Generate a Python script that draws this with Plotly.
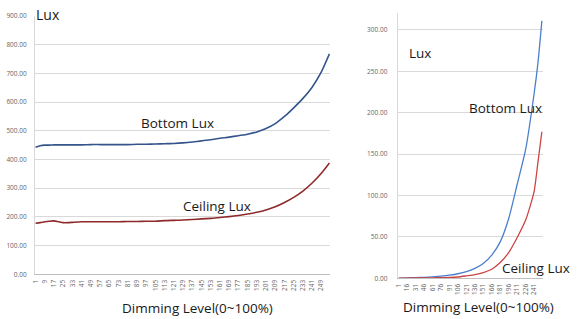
import plotly.graph_objects as go

W, H = 584, 319

# ---------------- data ----------------
left_x = [1, 5, 9, 13, 17, 21, 25, 29, 33, 41, 49, 57, 65, 73, 81, 89, 97, 105, 113,
          121, 129, 137, 145, 153, 161, 169, 177, 185, 193, 201, 209, 217, 225, 233,
          241, 249, 256]
left_bottom = [443, 448, 450, 450, 451, 451, 451, 451, 451, 451, 452, 452, 452, 452, 452,
               453, 453, 454, 455, 456, 458, 461, 465, 469, 474, 478, 483, 488, 496, 508,
               525, 550, 580, 613, 652, 705, 768]
left_ceiling = [178, 180, 183, 185, 186, 183, 180, 180, 181, 183, 183, 183, 183, 183, 184,
                184, 185, 185, 187, 188, 189, 191, 193, 195, 198, 201, 205, 210, 216, 224,
                235, 250, 268, 290, 318, 352, 388]
left_ticks = list(range(1, 250, 8))

right_x = [1, 16, 31, 46, 61, 76, 91, 106, 121, 136, 151, 166, 181, 196, 211, 226, 241, 248, 255]
right_bottom = [0.3, 0.5, 0.8, 1.2, 1.8, 2.6, 3.8, 5.5, 8, 12, 18, 28, 44, 72, 113, 155,
                222, 260, 311]
right_ceiling = [0.2, 0.3, 0.4, 0.5, 0.6, 0.8, 1.0, 1.6, 3, 4.5, 7, 11, 19, 31, 49, 70,
                 104, 140, 177]
right_ticks = list(range(1, 242, 15))

FONT = "Open Sans"
TXT = "#1a1a1a"
GRID = "#d9d9d9"
TICKC = "#666666"


def px_x(x):
    return x / W


def px_y(y):
    return 1 - y / H


fig = go.Figure()

fig.add_trace(go.Scatter(x=left_x, y=left_bottom, mode="lines", xaxis="x", yaxis="y",
                         line=dict(color="#34558b", width=1.6, shape="spline", smoothing=0.6),
                         showlegend=False))
fig.add_trace(go.Scatter(x=left_x, y=left_ceiling, mode="lines", xaxis="x", yaxis="y",
                         line=dict(color="#8e2a2a", width=1.6, shape="spline", smoothing=0.6),
                         showlegend=False))
fig.add_trace(go.Scatter(x=right_x, y=right_bottom, mode="lines", xaxis="x2", yaxis="y2",
                         line=dict(color="#4a7fcb", width=1.3, shape="spline", smoothing=0.6),
                         showlegend=False))
fig.add_trace(go.Scatter(x=right_x, y=right_ceiling, mode="lines", xaxis="x2", yaxis="y2",
                         line=dict(color="#cc4444", width=1.3, shape="spline", smoothing=0.6),
                         showlegend=False))

tickfont = dict(family=FONT, size=6.5, color=TICKC)

fig.update_layout(
    width=W, height=H,
    margin=dict(l=0, r=0, t=0, b=0),
    paper_bgcolor="white", plot_bgcolor="white",
    xaxis=dict(domain=[px_x(35), px_x(330)], range=[0.5, 256.5], tickvals=left_ticks,
               ticktext=[str(v) for v in left_ticks], tickangle=-90, tickfont=tickfont,
               showgrid=False, zeroline=False, showline=True, linecolor="#bfbfbf",
               ticks="", ticklabelstandoff=2, automargin=False, anchor="y"),
    yaxis=dict(domain=[px_y(274.3), px_y(16)], range=[0, 900], dtick=100, tickformat=".2f",
               tickfont=tickfont, showgrid=True, gridcolor=GRID, gridwidth=1,
               zeroline=False, showline=True, linecolor=GRID, ticks="",
               ticklabelstandoff=6, automargin=False, anchor="x"),
    xaxis2=dict(domain=[px_x(397.7), px_x(543)], range=[-1, 257], tickvals=right_ticks,
                ticktext=[str(v) for v in right_ticks], tickangle=-90, tickfont=tickfont,
                showgrid=False, zeroline=False, showline=True, linecolor="#bfbfbf",
                ticks="", ticklabelstandoff=2, automargin=False, anchor="y2"),
    yaxis2=dict(domain=[px_y(278.3), px_y(13.4)], range=[0, 320], tickvals=[0, 50, 100, 150, 200, 250, 300],
                tickformat=".2f", tickfont=tickfont, showgrid=True, gridcolor=GRID,
                gridwidth=1, zeroline=False, showline=True, linecolor=GRID, ticks="",
                ticklabelstandoff=8, automargin=False, anchor="x2"),
)

labels = [
    ("Lux", 48, 14, 14),
    ("Bottom Lux", 177.5, 122.7, 13.5),
    ("Ceiling Lux", 216.7, 205.7, 13.5),
    ("Dimming Level(0~100%)", 197.5, 307.5, 13.5),
    ("Lux", 419.5, 53.3, 13.5),
    ("Bottom Lux", 505.5, 108.3, 13.5),
    ("Ceiling Lux", 536, 268.3, 13.5),
    ("Dimming Level(0~100%)", 478.7, 306.7, 13.5),
]
for text, cx, cy, size in labels:
    fig.add_annotation(x=px_x(cx), y=px_y(cy), xref="paper", yref="paper", text=text,
                       showarrow=False, xanchor="center", yanchor="middle",
                       font=dict(family=FONT, size=size, color=TXT))

fig.write_html("out.html", config={"displayModeBar": False},
               post_script="document.body.style.margin='0';document.body.style.overflow='hidden';")
